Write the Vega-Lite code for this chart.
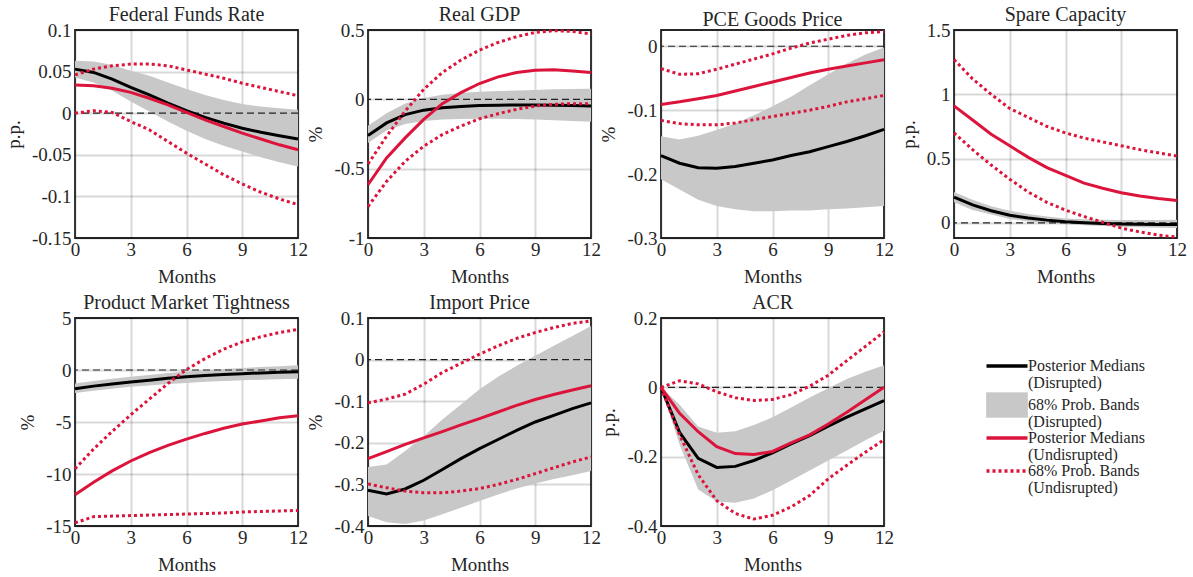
{
  "$schema": "https://vega.github.io/schema/vega-lite/v6.json",
  "padding": {"left": 3, "top": 4, "right": 0, "bottom": 0},
  "background": "white",
  "datasets": {
    "irf": [
      {"p":"ffr","m":0,"dm":0.053,"dl":0.043,"dh":0.063,"um":0.034,"ul":0.000,"uh":0.046},
      {"p":"ffr","m":1,"dm":0.049,"dl":0.037,"dh":0.062,"um":0.033,"ul":0.003,"uh":0.053},
      {"p":"ffr","m":2,"dm":0.041,"dl":0.027,"dh":0.058,"um":0.030,"ul":0.001,"uh":0.057},
      {"p":"ffr","m":3,"dm":0.031,"dl":0.014,"dh":0.051,"um":0.025,"ul":-0.010,"uh":0.059},
      {"p":"ffr","m":4,"dm":0.022,"dl":0.002,"dh":0.045,"um":0.018,"ul":-0.020,"uh":0.059},
      {"p":"ffr","m":5,"dm":0.012,"dl":-0.010,"dh":0.037,"um":0.010,"ul":-0.034,"uh":0.057},
      {"p":"ffr","m":6,"dm":0.003,"dl":-0.021,"dh":0.029,"um":0.001,"ul":-0.048,"uh":0.052},
      {"p":"ffr","m":7,"dm":-0.005,"dl":-0.031,"dh":0.022,"um":-0.008,"ul":-0.061,"uh":0.047},
      {"p":"ffr","m":8,"dm":-0.012,"dl":-0.039,"dh":0.016,"um":-0.016,"ul":-0.074,"uh":0.042},
      {"p":"ffr","m":9,"dm":-0.018,"dl":-0.046,"dh":0.011,"um":-0.024,"ul":-0.085,"uh":0.036},
      {"p":"ffr","m":10,"dm":-0.023,"dl":-0.053,"dh":0.008,"um":-0.031,"ul":-0.095,"uh":0.031},
      {"p":"ffr","m":11,"dm":-0.027,"dl":-0.059,"dh":0.006,"um":-0.038,"ul":-0.103,"uh":0.026},
      {"p":"ffr","m":12,"dm":-0.031,"dl":-0.064,"dh":0.004,"um":-0.044,"ul":-0.110,"uh":0.021},

      {"p":"gdp","m":0,"dm":-0.26,"dl":-0.315,"dh":-0.19,"um":-0.616,"ul":-0.773,"uh":-0.466},
      {"p":"gdp","m":1,"dm":-0.17,"dl":-0.225,"dh":-0.10,"um":-0.423,"ul":-0.592,"uh":-0.266},
      {"p":"gdp","m":2,"dm":-0.11,"dl":-0.178,"dh":-0.03,"um":-0.278,"ul":-0.447,"uh":-0.085},
      {"p":"gdp","m":3,"dm":-0.078,"dl":-0.157,"dh":0.01,"um":-0.145,"ul":-0.338,"uh":0.072},
      {"p":"gdp","m":4,"dm":-0.06,"dl":-0.146,"dh":0.033,"um":-0.031,"ul":-0.254,"uh":0.193},
      {"p":"gdp","m":5,"dm":-0.051,"dl":-0.141,"dh":0.046,"um":0.048,"ul":-0.193,"uh":0.283},
      {"p":"gdp","m":6,"dm":-0.045,"dl":-0.14,"dh":0.055,"um":0.114,"ul":-0.14,"uh":0.355},
      {"p":"gdp","m":7,"dm":-0.042,"dl":-0.14,"dh":0.06,"um":0.162,"ul":-0.104,"uh":0.41},
      {"p":"gdp","m":8,"dm":-0.041,"dl":-0.142,"dh":0.064,"um":0.193,"ul":-0.072,"uh":0.452},
      {"p":"gdp","m":9,"dm":-0.041,"dl":-0.145,"dh":0.068,"um":0.21,"ul":-0.048,"uh":0.483},
      {"p":"gdp","m":10,"dm":-0.043,"dl":-0.15,"dh":0.072,"um":0.213,"ul":-0.036,"uh":0.495},
      {"p":"gdp","m":11,"dm":-0.045,"dl":-0.156,"dh":0.075,"um":0.205,"ul":-0.031,"uh":0.49},
      {"p":"gdp","m":12,"dm":-0.048,"dl":-0.162,"dh":0.077,"um":0.193,"ul":-0.031,"uh":0.471},

      {"p":"pce","m":0,"dm":-0.171,"dl":-0.208,"dh":-0.141,"um":-0.091,"ul":-0.116,"uh":-0.035},
      {"p":"pce","m":1,"dm":-0.183,"dl":-0.224,"dh":-0.146,"um":-0.087,"ul":-0.121,"uh":-0.044},
      {"p":"pce","m":2,"dm":-0.190,"dl":-0.240,"dh":-0.140,"um":-0.082,"ul":-0.123,"uh":-0.043},
      {"p":"pce","m":3,"dm":-0.191,"dl":-0.250,"dh":-0.131,"um":-0.077,"ul":-0.123,"uh":-0.036},
      {"p":"pce","m":4,"dm":-0.188,"dl":-0.255,"dh":-0.121,"um":-0.070,"ul":-0.120,"uh":-0.028},
      {"p":"pce","m":5,"dm":-0.183,"dl":-0.258,"dh":-0.108,"um":-0.063,"ul":-0.115,"uh":-0.020},
      {"p":"pce","m":6,"dm":-0.178,"dl":-0.258,"dh":-0.094,"um":-0.056,"ul":-0.110,"uh":-0.012},
      {"p":"pce","m":7,"dm":-0.171,"dl":-0.257,"dh":-0.079,"um":-0.049,"ul":-0.105,"uh":-0.003},
      {"p":"pce","m":8,"dm":-0.165,"dl":-0.257,"dh":-0.061,"um":-0.042,"ul":-0.100,"uh":0.005},
      {"p":"pce","m":9,"dm":-0.157,"dl":-0.255,"dh":-0.044,"um":-0.036,"ul":-0.094,"uh":0.011},
      {"p":"pce","m":10,"dm":-0.149,"dl":-0.254,"dh":-0.027,"um":-0.031,"ul":-0.087,"uh":0.017},
      {"p":"pce","m":11,"dm":-0.140,"dl":-0.252,"dh":-0.013,"um":-0.026,"ul":-0.082,"uh":0.021},
      {"p":"pce","m":12,"dm":-0.130,"dl":-0.250,"dh":-0.002,"um":-0.021,"ul":-0.077,"uh":0.023},

      {"p":"spare","m":0,"dm":0.20,"dl":0.16,"dh":0.24,"um":0.91,"ul":0.70,"uh":1.27},
      {"p":"spare","m":1,"dm":0.14,"dl":0.10,"dh":0.18,"um":0.80,"ul":0.57,"uh":1.12},
      {"p":"spare","m":2,"dm":0.095,"dl":0.065,"dh":0.13,"um":0.69,"ul":0.45,"uh":1.00},
      {"p":"spare","m":3,"dm":0.06,"dl":0.03,"dh":0.095,"um":0.60,"ul":0.34,"uh":0.89},
      {"p":"spare","m":4,"dm":0.038,"dl":0.012,"dh":0.07,"um":0.51,"ul":0.24,"uh":0.82},
      {"p":"spare","m":5,"dm":0.022,"dl":0.0,"dh":0.05,"um":0.43,"ul":0.16,"uh":0.75},
      {"p":"spare","m":6,"dm":0.01,"dl":-0.01,"dh":0.035,"um":0.37,"ul":0.10,"uh":0.70},
      {"p":"spare","m":7,"dm":0.002,"dl":-0.018,"dh":0.028,"um":0.31,"ul":0.05,"uh":0.66},
      {"p":"spare","m":8,"dm":-0.004,"dl":-0.024,"dh":0.024,"um":0.27,"ul":0.005,"uh":0.63},
      {"p":"spare","m":9,"dm":-0.008,"dl":-0.03,"dh":0.022,"um":0.235,"ul":-0.04,"uh":0.60},
      {"p":"spare","m":10,"dm":-0.01,"dl":-0.034,"dh":0.022,"um":0.21,"ul":-0.07,"uh":0.57},
      {"p":"spare","m":11,"dm":-0.012,"dl":-0.037,"dh":0.023,"um":0.19,"ul":-0.095,"uh":0.545},
      {"p":"spare","m":12,"dm":-0.013,"dl":-0.04,"dh":0.025,"um":0.175,"ul":-0.11,"uh":0.52},

      {"p":"pmt","m":0,"dm":-1.8,"dl":-2.2,"dh":-1.3,"um":-12.0,"ul":-14.7,"uh":-9.5},
      {"p":"pmt","m":1,"dm":-1.55,"dl":-2.0,"dh":-1.05,"um":-10.8,"ul":-14.1,"uh":-7.6},
      {"p":"pmt","m":2,"dm":-1.35,"dl":-1.8,"dh":-0.83,"um":-9.7,"ul":-14.05,"uh":-5.9},
      {"p":"pmt","m":3,"dm":-1.15,"dl":-1.62,"dh":-0.64,"um":-8.75,"ul":-14.0,"uh":-4.3},
      {"p":"pmt","m":4,"dm":-0.98,"dl":-1.48,"dh":-0.47,"um":-7.95,"ul":-13.95,"uh":-2.8},
      {"p":"pmt","m":5,"dm":-0.8,"dl":-1.35,"dh":-0.3,"um":-7.25,"ul":-13.9,"uh":-1.3},
      {"p":"pmt","m":6,"dm":-0.65,"dl":-1.24,"dh":-0.15,"um":-6.65,"ul":-13.85,"uh":0.05},
      {"p":"pmt","m":7,"dm":-0.53,"dl":-1.14,"dh":-0.02,"um":-6.1,"ul":-13.8,"uh":1.1},
      {"p":"pmt","m":8,"dm":-0.43,"dl":-1.06,"dh":0.1,"um":-5.6,"ul":-13.75,"uh":2.0},
      {"p":"pmt","m":9,"dm":-0.35,"dl":-0.99,"dh":0.2,"um":-5.2,"ul":-13.65,"uh":2.7},
      {"p":"pmt","m":10,"dm":-0.28,"dl":-0.93,"dh":0.29,"um":-4.9,"ul":-13.6,"uh":3.2},
      {"p":"pmt","m":11,"dm":-0.22,"dl":-0.88,"dh":0.37,"um":-4.6,"ul":-13.55,"uh":3.6},
      {"p":"pmt","m":12,"dm":-0.16,"dl":-0.83,"dh":0.45,"um":-4.4,"ul":-13.5,"uh":3.9},

      {"p":"imp","m":0,"dm":-0.314,"dl":-0.376,"dh":-0.258,"um":-0.238,"ul":-0.299,"uh":-0.104},
      {"p":"imp","m":1,"dm":-0.323,"dl":-0.391,"dh":-0.252,"um":-0.221,"ul":-0.308,"uh":-0.095},
      {"p":"imp","m":2,"dm":-0.311,"dl":-0.395,"dh":-0.220,"um":-0.204,"ul":-0.316,"uh":-0.083},
      {"p":"imp","m":3,"dm":-0.290,"dl":-0.387,"dh":-0.184,"um":-0.188,"ul":-0.320,"uh":-0.059},
      {"p":"imp","m":4,"dm":-0.264,"dl":-0.372,"dh":-0.144,"um":-0.173,"ul":-0.320,"uh":-0.031},
      {"p":"imp","m":5,"dm":-0.238,"dl":-0.356,"dh":-0.108,"um":-0.157,"ul":-0.316,"uh":-0.009},
      {"p":"imp","m":6,"dm":-0.214,"dl":-0.340,"dh":-0.071,"um":-0.142,"ul":-0.310,"uh":0.013},
      {"p":"imp","m":7,"dm":-0.192,"dl":-0.324,"dh":-0.041,"um":-0.126,"ul":-0.300,"uh":0.033},
      {"p":"imp","m":8,"dm":-0.170,"dl":-0.310,"dh":-0.015,"um":-0.110,"ul":-0.288,"uh":0.051},
      {"p":"imp","m":9,"dm":-0.150,"dl":-0.298,"dh":0.009,"um":-0.096,"ul":-0.274,"uh":0.065},
      {"p":"imp","m":10,"dm":-0.134,"dl":-0.287,"dh":0.033,"um":-0.084,"ul":-0.260,"uh":0.077},
      {"p":"imp","m":11,"dm":-0.118,"dl":-0.278,"dh":0.057,"um":-0.073,"ul":-0.246,"uh":0.087},
      {"p":"imp","m":12,"dm":-0.104,"dl":-0.268,"dh":0.081,"um":-0.063,"ul":-0.234,"uh":0.093},

      {"p":"acr","m":0,"dm":0,"dl":0,"dh":0,"um":0,"ul":0,"uh":0},
      {"p":"acr","m":1,"dm":-0.13,"dl":-0.165,"dh":-0.05,"um":-0.075,"ul":-0.137,"uh":0.019},
      {"p":"acr","m":2,"dm":-0.205,"dl":-0.295,"dh":-0.113,"um":-0.128,"ul":-0.252,"uh":0.01},
      {"p":"acr","m":3,"dm":-0.231,"dl":-0.329,"dh":-0.131,"um":-0.171,"ul":-0.327,"uh":-0.013},
      {"p":"acr","m":4,"dm":-0.228,"dl":-0.333,"dh":-0.127,"um":-0.191,"ul":-0.364,"uh":-0.03},
      {"p":"acr","m":5,"dm":-0.211,"dl":-0.321,"dh":-0.109,"um":-0.194,"ul":-0.38,"uh":-0.038},
      {"p":"acr","m":6,"dm":-0.189,"dl":-0.297,"dh":-0.086,"um":-0.185,"ul":-0.369,"uh":-0.035},
      {"p":"acr","m":7,"dm":-0.163,"dl":-0.269,"dh":-0.058,"um":-0.16,"ul":-0.345,"uh":-0.021},
      {"p":"acr","m":8,"dm":-0.139,"dl":-0.24,"dh":-0.029,"um":-0.137,"ul":-0.312,"uh":0.003},
      {"p":"acr","m":9,"dm":-0.112,"dl":-0.211,"dh":-0.003,"um":-0.106,"ul":-0.264,"uh":0.035},
      {"p":"acr","m":10,"dm":-0.086,"dl":-0.182,"dh":0.024,"um":-0.072,"ul":-0.225,"uh":0.077},
      {"p":"acr","m":11,"dm":-0.062,"dl":-0.153,"dh":0.045,"um":-0.036,"ul":-0.187,"uh":0.118},
      {"p":"acr","m":12,"dm":-0.038,"dl":-0.125,"dh":0.064,"um":0,"ul":-0.151,"uh":0.16}
    ]
  },
  "data": {"name": "irf"},
  "columns": 4,
  "bounds": "flush",
  "spacing": {"row": 80, "column": 70},
  "concat": [
    {
      "title": "Federal Funds Rate", "width": 223, "height": 208,
      "transform": [{"filter": "datum.p == 'ffr'"}],
      "layer": [
        {"mark": {"type": "area"}, "encoding": {
          "x": {"field": "m", "type": "quantitative", "title": "Months", "scale": {"domain": [0, 12], "nice": false}, "axis": {"values": [0, 3, 6, 9, 12]}},
          "y": {"field": "dl", "type": "quantitative", "title": "p.p.", "scale": {"domain": [-0.15, 0.1], "nice": false, "zero": false}, "axis": {"values": [-0.15, -0.1, -0.05, 0, 0.05, 0.1], "labelExpr": "toString(datum.value)"}},
          "y2": {"field": "dh"},
          "color": {"datum": "B", "type": "nominal", "scale": {"domain": ["A", "B", "C", "D"], "range": ["#000000", "#c8c8c8", "#dc143c", "#dc143c"]}, "legend": {
            "orient": "none", "legendX": 924, "legendY": 328, "title": null,
            "symbolSize": 1681, "labelFont": "Liberation Serif", "labelFontSize": 16, "labelColor": "#262626", "labelLimit": 0, "labelOffset": 13, "rowPadding": 0,
            "labelExpr": "datum.value == 'A' ? ['Posterior Medians', '(Disrupted)'] : datum.value == 'B' ? ['68% Prob. Bands', '(Disrupted)'] : datum.value == 'C' ? ['Posterior Medians', '(Undisrupted)'] : ['68% Prob. Bands', '(Undisrupted)']",
            "encode": {
              "symbols": {"update": {
                "shape": {"signal": "datum.value == 'B' ? 'M-1,-0.6H1V0.6H-1Z' : 'M-1,0H1'"},
                "strokeWidth": {"signal": "datum.value == 'B' ? 0.8 : 3.5"},
                "strokeDash": {"signal": "datum.value == 'D' ? [3, 3] : [1, 0]"},
                "opacity": {"value": 1}
              }},
              "labels": {"update": {"lineHeight": {"value": 17}}}
            }
          }}
        }},
        {"data": {"values": [{}]}, "mark": {"type": "rule", "strokeDash": [7, 4], "strokeWidth": 1.2, "color": "#222222"}, "encoding": {"y": {"datum": 0, "type": "quantitative"}}},
        {"mark": {"type": "line", "strokeWidth": 3}, "encoding": {"x": {"field": "m", "type": "quantitative", "title": "Months"}, "y": {"field": "dm", "type": "quantitative", "title": "p.p."}, "color": {"datum": "A", "type": "nominal"}}},
        {"mark": {"type": "line", "strokeWidth": 3}, "encoding": {"x": {"field": "m", "type": "quantitative", "title": "Months"}, "y": {"field": "um", "type": "quantitative", "title": "p.p."}, "color": {"datum": "C", "type": "nominal"}}},
        {"mark": {"type": "line", "strokeWidth": 3, "strokeDash": [3, 3]}, "encoding": {"x": {"field": "m", "type": "quantitative", "title": "Months"}, "y": {"field": "ul", "type": "quantitative", "title": "p.p."}, "color": {"datum": "D", "type": "nominal"}}},
        {"mark": {"type": "line", "strokeWidth": 3, "strokeDash": [3, 3]}, "encoding": {"x": {"field": "m", "type": "quantitative", "title": "Months"}, "y": {"field": "uh", "type": "quantitative", "title": "p.p."}, "color": {"datum": "D", "type": "nominal"}}}
      ]
    },
    {
      "title": "Real GDP", "width": 223, "height": 208,
      "transform": [{"filter": "datum.p == 'gdp'"}],
      "layer": [
        {"mark": {"type": "area"}, "encoding": {
          "x": {"field": "m", "type": "quantitative", "title": "Months", "scale": {"domain": [0, 12], "nice": false}, "axis": {"values": [0, 3, 6, 9, 12]}},
          "y": {"field": "dl", "type": "quantitative", "title": "%", "scale": {"domain": [-1, 0.5], "nice": false, "zero": false}, "axis": {"values": [-1, -0.5, 0, 0.5], "labelExpr": "toString(datum.value)"}},
          "y2": {"field": "dh"},
          "color": {"datum": "B", "type": "nominal"}
        }},
        {"data": {"values": [{}]}, "mark": {"type": "rule", "strokeDash": [7, 4], "strokeWidth": 1.2, "color": "#222222"}, "encoding": {"y": {"datum": 0, "type": "quantitative"}}},
        {"mark": {"type": "line", "strokeWidth": 3}, "encoding": {"x": {"field": "m", "type": "quantitative", "title": "Months"}, "y": {"field": "dm", "type": "quantitative", "title": "%"}, "color": {"datum": "A", "type": "nominal"}}},
        {"mark": {"type": "line", "strokeWidth": 3}, "encoding": {"x": {"field": "m", "type": "quantitative", "title": "Months"}, "y": {"field": "um", "type": "quantitative", "title": "%"}, "color": {"datum": "C", "type": "nominal"}}},
        {"mark": {"type": "line", "strokeWidth": 3, "strokeDash": [3, 3]}, "encoding": {"x": {"field": "m", "type": "quantitative", "title": "Months"}, "y": {"field": "ul", "type": "quantitative", "title": "%"}, "color": {"datum": "D", "type": "nominal"}}},
        {"mark": {"type": "line", "strokeWidth": 3, "strokeDash": [3, 3]}, "encoding": {"x": {"field": "m", "type": "quantitative", "title": "Months"}, "y": {"field": "uh", "type": "quantitative", "title": "%"}, "color": {"datum": "D", "type": "nominal"}}}
      ]
    },
    {
      "title": "PCE Goods Price", "width": 223, "height": 208,
      "transform": [{"filter": "datum.p == 'pce'"}],
      "layer": [
        {"mark": {"type": "area"}, "encoding": {
          "x": {"field": "m", "type": "quantitative", "title": "Months", "scale": {"domain": [0, 12], "nice": false}, "axis": {"values": [0, 3, 6, 9, 12]}},
          "y": {"field": "dl", "type": "quantitative", "title": "%", "scale": {"domain": [-0.3, 0.0254], "nice": false, "zero": false}, "axis": {"values": [-0.3, -0.2, -0.1, 0], "labelExpr": "toString(datum.value)"}},
          "y2": {"field": "dh"},
          "color": {"datum": "B", "type": "nominal"}
        }},
        {"data": {"values": [{}]}, "mark": {"type": "rule", "strokeDash": [7, 4], "strokeWidth": 1.2, "color": "#222222"}, "encoding": {"y": {"datum": 0, "type": "quantitative"}}},
        {"mark": {"type": "line", "strokeWidth": 3}, "encoding": {"x": {"field": "m", "type": "quantitative", "title": "Months"}, "y": {"field": "dm", "type": "quantitative", "title": "%"}, "color": {"datum": "A", "type": "nominal"}}},
        {"mark": {"type": "line", "strokeWidth": 3}, "encoding": {"x": {"field": "m", "type": "quantitative", "title": "Months"}, "y": {"field": "um", "type": "quantitative", "title": "%"}, "color": {"datum": "C", "type": "nominal"}}},
        {"mark": {"type": "line", "strokeWidth": 3, "strokeDash": [3, 3]}, "encoding": {"x": {"field": "m", "type": "quantitative", "title": "Months"}, "y": {"field": "ul", "type": "quantitative", "title": "%"}, "color": {"datum": "D", "type": "nominal"}}},
        {"mark": {"type": "line", "strokeWidth": 3, "strokeDash": [3, 3]}, "encoding": {"x": {"field": "m", "type": "quantitative", "title": "Months"}, "y": {"field": "uh", "type": "quantitative", "title": "%"}, "color": {"datum": "D", "type": "nominal"}}}
      ]
    },
    {
      "title": "Spare Capacity", "width": 223, "height": 208,
      "transform": [{"filter": "datum.p == 'spare'"}],
      "layer": [
        {"mark": {"type": "area"}, "encoding": {
          "x": {"field": "m", "type": "quantitative", "title": "Months", "scale": {"domain": [0, 12], "nice": false}, "axis": {"values": [0, 3, 6, 9, 12]}},
          "y": {"field": "dl", "type": "quantitative", "title": "p.p.", "scale": {"domain": [-0.117, 1.5], "nice": false, "zero": false}, "axis": {"values": [0, 0.5, 1, 1.5], "labelExpr": "toString(datum.value)"}},
          "y2": {"field": "dh"},
          "color": {"datum": "B", "type": "nominal"}
        }},
        {"data": {"values": [{}]}, "mark": {"type": "rule", "strokeDash": [7, 4], "strokeWidth": 1.2, "color": "#222222"}, "encoding": {"y": {"datum": 0, "type": "quantitative"}}},
        {"mark": {"type": "line", "strokeWidth": 3}, "encoding": {"x": {"field": "m", "type": "quantitative", "title": "Months"}, "y": {"field": "dm", "type": "quantitative", "title": "p.p."}, "color": {"datum": "A", "type": "nominal"}}},
        {"mark": {"type": "line", "strokeWidth": 3}, "encoding": {"x": {"field": "m", "type": "quantitative", "title": "Months"}, "y": {"field": "um", "type": "quantitative", "title": "p.p."}, "color": {"datum": "C", "type": "nominal"}}},
        {"mark": {"type": "line", "strokeWidth": 3, "strokeDash": [3, 3]}, "encoding": {"x": {"field": "m", "type": "quantitative", "title": "Months"}, "y": {"field": "ul", "type": "quantitative", "title": "p.p."}, "color": {"datum": "D", "type": "nominal"}}},
        {"mark": {"type": "line", "strokeWidth": 3, "strokeDash": [3, 3]}, "encoding": {"x": {"field": "m", "type": "quantitative", "title": "Months"}, "y": {"field": "uh", "type": "quantitative", "title": "p.p."}, "color": {"datum": "D", "type": "nominal"}}}
      ]
    },
    {
      "title": "Product Market Tightness", "width": 223, "height": 208,
      "transform": [{"filter": "datum.p == 'pmt'"}],
      "layer": [
        {"mark": {"type": "area"}, "encoding": {
          "x": {"field": "m", "type": "quantitative", "title": "Months", "scale": {"domain": [0, 12], "nice": false}, "axis": {"values": [0, 3, 6, 9, 12]}},
          "y": {"field": "dl", "type": "quantitative", "title": "%", "scale": {"domain": [-15, 5], "nice": false, "zero": false}, "axis": {"values": [-15, -10, -5, 0, 5], "labelExpr": "toString(datum.value)"}},
          "y2": {"field": "dh"},
          "color": {"datum": "B", "type": "nominal"}
        }},
        {"data": {"values": [{}]}, "mark": {"type": "rule", "strokeDash": [7, 4], "strokeWidth": 1.2, "color": "#222222"}, "encoding": {"y": {"datum": 0, "type": "quantitative"}}},
        {"mark": {"type": "line", "strokeWidth": 3}, "encoding": {"x": {"field": "m", "type": "quantitative", "title": "Months"}, "y": {"field": "dm", "type": "quantitative", "title": "%"}, "color": {"datum": "A", "type": "nominal"}}},
        {"mark": {"type": "line", "strokeWidth": 3}, "encoding": {"x": {"field": "m", "type": "quantitative", "title": "Months"}, "y": {"field": "um", "type": "quantitative", "title": "%"}, "color": {"datum": "C", "type": "nominal"}}},
        {"mark": {"type": "line", "strokeWidth": 3, "strokeDash": [3, 3]}, "encoding": {"x": {"field": "m", "type": "quantitative", "title": "Months"}, "y": {"field": "ul", "type": "quantitative", "title": "%"}, "color": {"datum": "D", "type": "nominal"}}},
        {"mark": {"type": "line", "strokeWidth": 3, "strokeDash": [3, 3]}, "encoding": {"x": {"field": "m", "type": "quantitative", "title": "Months"}, "y": {"field": "uh", "type": "quantitative", "title": "%"}, "color": {"datum": "D", "type": "nominal"}}}
      ]
    },
    {
      "title": "Import Price", "width": 223, "height": 208,
      "transform": [{"filter": "datum.p == 'imp'"}],
      "layer": [
        {"mark": {"type": "area"}, "encoding": {
          "x": {"field": "m", "type": "quantitative", "title": "Months", "scale": {"domain": [0, 12], "nice": false}, "axis": {"values": [0, 3, 6, 9, 12]}},
          "y": {"field": "dl", "type": "quantitative", "title": "%", "scale": {"domain": [-0.4, 0.1], "nice": false, "zero": false}, "axis": {"values": [-0.4, -0.3, -0.2, -0.1, 0, 0.1], "labelExpr": "toString(datum.value)"}},
          "y2": {"field": "dh"},
          "color": {"datum": "B", "type": "nominal"}
        }},
        {"data": {"values": [{}]}, "mark": {"type": "rule", "strokeDash": [7, 4], "strokeWidth": 1.2, "color": "#222222"}, "encoding": {"y": {"datum": 0, "type": "quantitative"}}},
        {"mark": {"type": "line", "strokeWidth": 3}, "encoding": {"x": {"field": "m", "type": "quantitative", "title": "Months"}, "y": {"field": "dm", "type": "quantitative", "title": "%"}, "color": {"datum": "A", "type": "nominal"}}},
        {"mark": {"type": "line", "strokeWidth": 3}, "encoding": {"x": {"field": "m", "type": "quantitative", "title": "Months"}, "y": {"field": "um", "type": "quantitative", "title": "%"}, "color": {"datum": "C", "type": "nominal"}}},
        {"mark": {"type": "line", "strokeWidth": 3, "strokeDash": [3, 3]}, "encoding": {"x": {"field": "m", "type": "quantitative", "title": "Months"}, "y": {"field": "ul", "type": "quantitative", "title": "%"}, "color": {"datum": "D", "type": "nominal"}}},
        {"mark": {"type": "line", "strokeWidth": 3, "strokeDash": [3, 3]}, "encoding": {"x": {"field": "m", "type": "quantitative", "title": "Months"}, "y": {"field": "uh", "type": "quantitative", "title": "%"}, "color": {"datum": "D", "type": "nominal"}}}
      ]
    },
    {
      "title": "ACR", "width": 223, "height": 208,
      "transform": [{"filter": "datum.p == 'acr'"}],
      "layer": [
        {"mark": {"type": "area"}, "encoding": {
          "x": {"field": "m", "type": "quantitative", "title": "Months", "scale": {"domain": [0, 12], "nice": false}, "axis": {"values": [0, 3, 6, 9, 12]}},
          "y": {"field": "dl", "type": "quantitative", "title": "p.p.", "scale": {"domain": [-0.4, 0.2], "nice": false, "zero": false}, "axis": {"values": [-0.4, -0.2, 0, 0.2], "labelExpr": "toString(datum.value)"}},
          "y2": {"field": "dh"},
          "color": {"datum": "B", "type": "nominal"}
        }},
        {"data": {"values": [{}]}, "mark": {"type": "rule", "strokeDash": [7, 4], "strokeWidth": 1.2, "color": "#222222"}, "encoding": {"y": {"datum": 0, "type": "quantitative"}}},
        {"mark": {"type": "line", "strokeWidth": 3}, "encoding": {"x": {"field": "m", "type": "quantitative", "title": "Months"}, "y": {"field": "dm", "type": "quantitative", "title": "p.p."}, "color": {"datum": "A", "type": "nominal"}}},
        {"mark": {"type": "line", "strokeWidth": 3}, "encoding": {"x": {"field": "m", "type": "quantitative", "title": "Months"}, "y": {"field": "um", "type": "quantitative", "title": "p.p."}, "color": {"datum": "C", "type": "nominal"}}},
        {"mark": {"type": "line", "strokeWidth": 3, "strokeDash": [3, 3]}, "encoding": {"x": {"field": "m", "type": "quantitative", "title": "Months"}, "y": {"field": "ul", "type": "quantitative", "title": "p.p."}, "color": {"datum": "D", "type": "nominal"}}},
        {"mark": {"type": "line", "strokeWidth": 3, "strokeDash": [3, 3]}, "encoding": {"x": {"field": "m", "type": "quantitative", "title": "Months"}, "y": {"field": "uh", "type": "quantitative", "title": "p.p."}, "color": {"datum": "D", "type": "nominal"}}}
      ]
    }
  ],
  "config": {
    "font": "Liberation Serif",
    "view": {"stroke": "#262626", "strokeWidth": 1.8},
    "locale": {"number": {"decimal": ".", "thousands": ",", "grouping": [3], "currency": ["$", ""], "minus": "-"}},
    "axis": {"labelFont": "Liberation Serif", "labelFontSize": 19, "labelColor": "#262626", "titleFont": "Liberation Serif", "titleFontSize": 19, "titleFontWeight": "normal", "titleColor": "#262626", "grid": true, "gridColor": "#000000", "gridOpacity": 0.15, "gridWidth": 2, "domain": false, "ticks": false, "labelPadding": 2, "zindex": 1, "labelFlush": false, "labelOverlap": false},
    "axisY": {"labelPadding": 4, "titlePadding": 8},
    "axisX": {"titlePadding": 8},
    "title": {"font": "Liberation Serif", "fontSize": 20, "fontWeight": "normal", "color": "#262626", "baseline": "alphabetic", "offset": -4}
  }
}
